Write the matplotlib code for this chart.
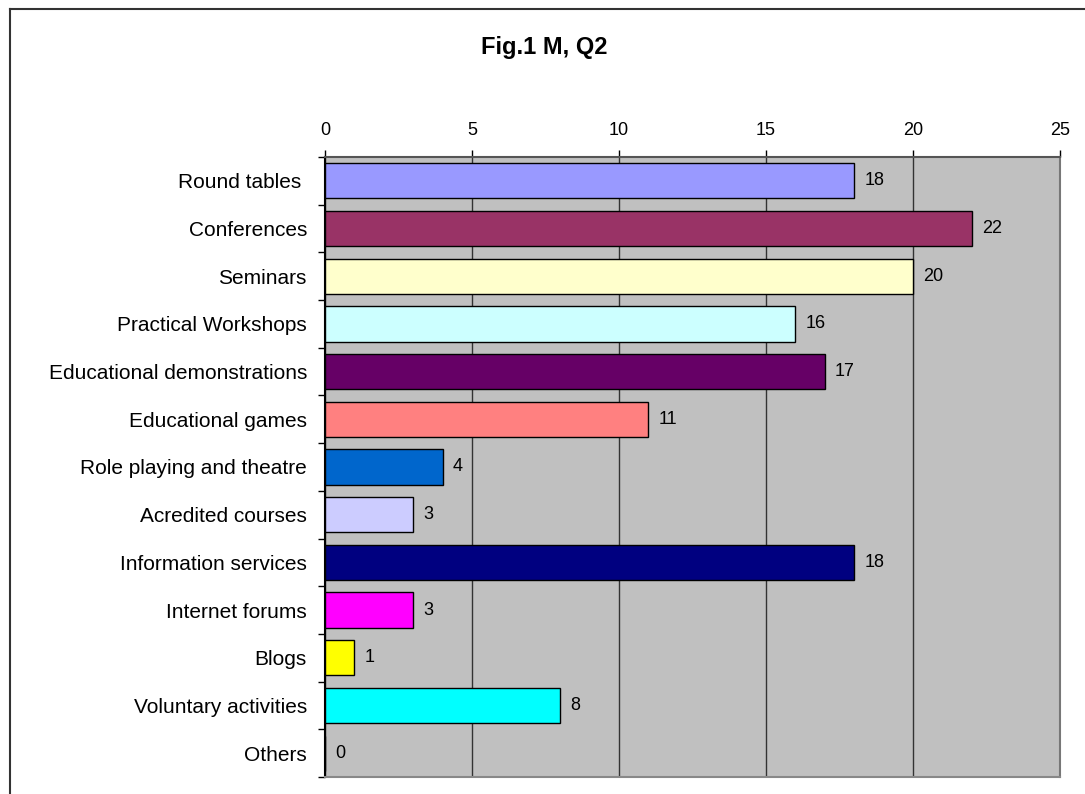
import matplotlib

matplotlib.use("Agg")
import matplotlib.pyplot as plt
from matplotlib.lines import Line2D

categories = [
    "Round tables ",
    "Conferences",
    "Seminars",
    "Practical Workshops",
    "Educational demonstrations",
    "Educational games",
    "Role playing and theatre",
    "Acredited courses",
    "Information services",
    "Internet forums",
    "Blogs",
    "Voluntary activities",
    "Others",
]
values = [18, 22, 20, 16, 17, 11, 4, 3, 18, 3, 1, 8, 0]
colors = [
    "#9999FF", "#993366", "#FFFFCC", "#CCFFFF", "#660066", "#FF8080",
    "#0066CC", "#CCCCFF", "#000080", "#FF00FF", "#FFFF00", "#00FFFF", "#800080",
]
x_ticks = [0, 5, 10, 15, 20, 25]

plt.rcParams["font.family"] = ["Liberation Sans", "DejaVu Sans"]

fig = plt.figure(figsize=(10.85, 7.94), dpi=100)
ax = fig.add_axes([0.2995, 0.0214, 0.9770 - 0.2995, 0.8023 - 0.0214])
ax.set_facecolor("#C0C0C0")

pos = list(range(len(categories)))
ax.barh(pos, values, height=0.74, color=colors, edgecolor="black",
        linewidth=1.0, zorder=3)
for y, v in zip(pos, values):
    ax.text(v + 0.35, y, str(v), va="center", ha="left", fontsize=13, zorder=4)

ax.set_xlim(0, 25)
ax.set_ylim(len(categories) - 0.5, -0.5)
ax.xaxis.tick_top()
ax.set_xticks(x_ticks)
ax.tick_params(axis="x", labelsize=13, length=5, width=1, pad=8, color="black")
ax.grid(axis="x", color="#333333", linewidth=1.0, zorder=1)

ax.set_yticks(pos)
ax.set_yticklabels(categories, fontsize=15)
ax.tick_params(axis="y", which="major", length=0, pad=13)
ax.set_yticks([p - 0.5 for p in pos] + [len(categories) - 0.5], minor=True)
ax.tick_params(axis="y", which="minor", length=5, width=1, color="black")

ax.spines["left"].set_color("black")
ax.spines["top"].set_color("#555555")
ax.spines["right"].set_color("#777777")
ax.spines["bottom"].set_color("#888888")
for s in ax.spines.values():
    s.set_linewidth(1.5)

fig.text(0.502, 0.94, "Fig.1 M, Q2", ha="center", va="center",
         fontsize=17, fontweight="bold")

# outer chart border (only left and top visible in the original crop)
fig.add_artist(Line2D([0.0092, 0.0092], [0.0, 0.9886], color="#333333",
                      linewidth=1.5, transform=fig.transFigure))
fig.add_artist(Line2D([0.0092, 1.0], [0.9886, 0.9886], color="#333333",
                      linewidth=1.5, transform=fig.transFigure))

fig.savefig("out.png", dpi=100)
